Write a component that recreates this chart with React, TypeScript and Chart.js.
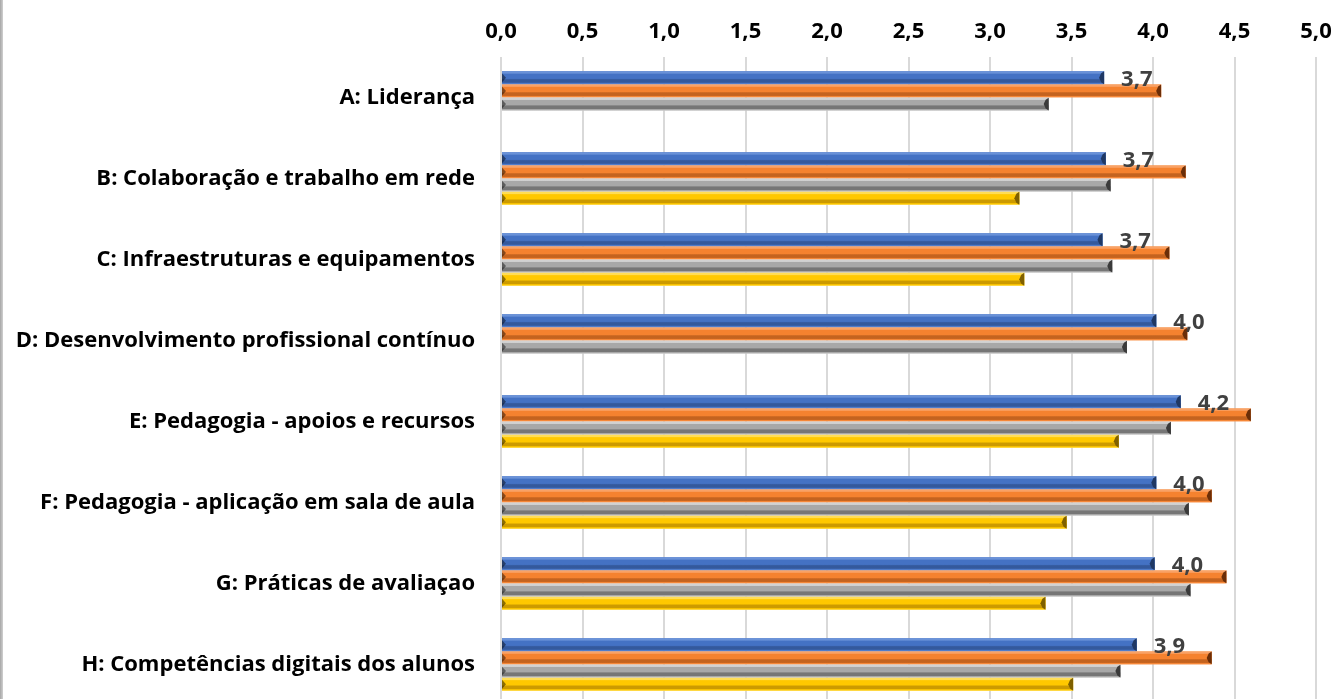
import React, { useEffect, useRef } from "react";
import { Chart, registerables } from "chart.js";

Chart.register(...registerables);

const categories = [
  "A: Liderança",
  "B: Colaboração e trabalho em rede",
  "C: Infraestruturas e equipamentos",
  "D: Desenvolvimento profissional contínuo",
  "E: Pedagogia - apoios e recursos",
  "F: Pedagogia - aplicação em sala de aula",
  "G: Práticas de avaliaçao",
  "H: Competências digitais dos alunos",
];

const seriesBlue = [3.7, 3.71, 3.69, 4.02, 4.17, 4.02, 4.01, 3.9];
const seriesOrange = [4.05, 4.2, 4.1, 4.21, 4.6, 4.36, 4.45, 4.36];
const seriesGray = [3.36, 3.74, 3.75, 3.84, 4.11, 4.22, 4.23, 3.8];
const seriesYellow = [null, 3.18, 3.21, null, 3.79, 3.47, 3.34, 3.51];

const xMin = 0;
const xMax = 5;
const xStep = 0.5;

const FONT = "'Open Sans'";

const palette = [
  { base: "#4472C4", light: "#6A92D8", dark: "#34599C", edge: "#1F3864" },
  { base: "#F5822F", light: "#F9A266", dark: "#C4631F", edge: "#6B2E08" },
  { base: "#A8A8A8", light: "#D2D2D2", dark: "#767676", edge: "#3A3A3A" },
  { base: "#FFC800", light: "#FFDD55", dark: "#CC9A00", edge: "#7F6000" },
];

const fmt = (v: number) => Number(v).toFixed(1).replace(".", ",");

const bevelPlugin = {
  id: "bevel",
  afterDatasetsDraw(chart: any) {
    const ctx = chart.ctx;
    chart.data.datasets.forEach((ds: any, di: number) => {
      const meta = chart.getDatasetMeta(di);
      const pal = palette[di];
      meta.data.forEach((el: any, i: number) => {
        const v = ds.data[i];
        if (v === null || v === undefined) return;
        const left = el.base;
        const right = el.x;
        const h = el.height;
        const top = el.y - h / 2;
        const bottom = el.y + h / 2;
        const w = right - left;
        ctx.save();
        const g = ctx.createLinearGradient(0, top, 0, bottom);
        g.addColorStop(0, pal.light);
        g.addColorStop(0.14, pal.light);
        g.addColorStop(0.22, pal.base);
        g.addColorStop(0.55, pal.base);
        g.addColorStop(0.65, pal.dark);
        g.addColorStop(0.85, pal.dark);
        g.addColorStop(0.92, pal.base);
        g.addColorStop(1, pal.light);
        ctx.fillStyle = g;
        ctx.fillRect(left, top, w, h);
        ctx.fillStyle = pal.edge;
        ctx.beginPath();
        ctx.moveTo(right, top);
        ctx.lineTo(right, bottom);
        ctx.lineTo(right - 3, bottom - 2);
        ctx.lineTo(right - 5, el.y);
        ctx.lineTo(right - 3, top + 2);
        ctx.closePath();
        ctx.fill();
        ctx.fillStyle = "rgba(0,0,0,0.45)";
        ctx.beginPath();
        ctx.moveTo(left, top + 2);
        ctx.lineTo(left + 4, el.y);
        ctx.lineTo(left, bottom - 2);
        ctx.closePath();
        ctx.fill();
        ctx.restore();
      });
    });
  },
  afterDraw(chart: any) {
    const ctx = chart.ctx;
    const meta = chart.getDatasetMeta(0);
    const ds = chart.data.datasets[0];
    ctx.save();
    ctx.font = `bold 22px ${FONT}`;
    ctx.fillStyle = "#404040";
    ctx.textAlign = "left";
    ctx.textBaseline = "middle";
    meta.data.forEach((el: any, i: number) => {
      const v = ds.data[i];
      if (v === null || v === undefined) return;
      ctx.fillText(fmt(v), el.x + 17, el.y + 2);
    });
    ctx.restore();
  },
};

export default function App() {
  const ref = useRef<HTMLCanvasElement | null>(null);

  useEffect(() => {
    if (!ref.current) return;
    const mk = (data: (number | null)[], i: number, label: string) => ({
      label,
      data,
      backgroundColor: palette[i].base,
      borderWidth: 0,
      categoryPercentage: 0.65,
      barPercentage: 0.98,
    });
    const chart = new Chart(ref.current, {
      type: "bar",
      data: {
        labels: categories,
        datasets: [
          mk(seriesBlue, 0, "Série 1"),
          mk(seriesOrange, 1, "Série 2"),
          mk(seriesGray, 2, "Série 3"),
          mk(seriesYellow, 3, "Série 4"),
        ],
      },
      options: {
        indexAxis: "y",
        animation: false,
        responsive: false,
        maintainAspectRatio: false,
        layout: { padding: { left: 0, right: 18, top: 0, bottom: 0 } },
        plugins: {
          legend: { display: false },
          tooltip: { enabled: false },
        },
        scales: {
          x: {
            position: "top",
            min: xMin,
            max: xMax,
            ticks: {
              stepSize: xStep,
              callback: (v: any) => fmt(v),
              font: { family: FONT, weight: "bold", size: 22 },
              color: "#000000",
              padding: 12,
              maxRotation: 0,
            },
            grid: { color: "#D9D9D9", lineWidth: 2, drawTicks: false },
            border: { display: false },
            afterFit: (s: any) => {
              s.height = 57;
              s.paddingLeft = 0;
              s.paddingRight = 0;
            },
          },
          y: {
            ticks: {
              font: { family: FONT, weight: "bold", size: 22 },
              color: "#000000",
              padding: 26,
            },
            grid: { display: false, drawTicks: false },
            border: { display: false },
            afterFit: (s: any) => {
              s.width = 501;
              s.paddingTop = 0;
              s.paddingBottom = 0;
            },
          },
        },
      },
      plugins: [bevelPlugin],
    } as any);
    return () => chart.destroy();
  }, []);

  return (
    <div
      style={{
        position: "fixed",
        left: 0,
        top: 0,
        width: 1334,
        height: 699,
        overflow: "hidden",
        background: "#ffffff",
      }}
    >
      <canvas ref={ref} width={1334} height={705} style={{ display: "block", width: 1334, height: 705 }} />
      <div
        style={{
          position: "absolute",
          left: 0,
          top: 0,
          width: 3,
          height: 699,
          background: "linear-gradient(to right, #a6a6a6, #d0d0d0)",
        }}
      />
    </div>
  );
}
